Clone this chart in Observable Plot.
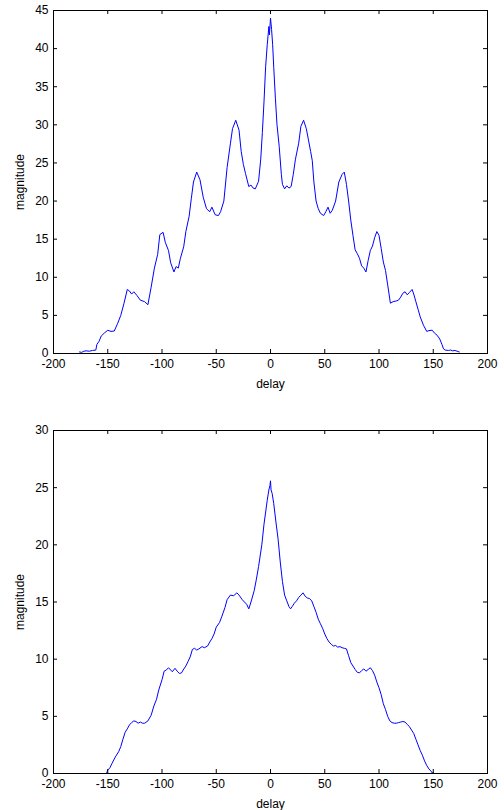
<!DOCTYPE html>
<html><head><meta charset="utf-8">
<script src="https://cdn.jsdelivr.net/npm/d3@7"></script>
<script src="https://cdn.jsdelivr.net/npm/@observablehq/plot@0.6"></script>
<style>
body{margin:0;background:#fff;}
#chart svg{display:block;}
</style></head><body><div id="chart"></div>
<script>
const topDelay = [-176,-174,-172,-170,-167,-164,-161,-160,-158,-156,-153,-150,-147,-144,-141,-138,-135,-132,-130,-128,-126,-123,-120,-116,-113,-110,-107,-104,-102,-99,-97,-94,-92,-89,-87,-85,-83,-80,-78,-75,-73,-71,-68,-65,-62,-59,-56,-54,-51,-48,-46,-43,-40,-37,-35,-32,-29,-27,-25,-23,-20,-18,-16,-14,-11,-9,-7.5,-6,-4.5,-3,-1.5,-1,0,1,2,3,4.5,6,8,10,11,13,15,17,19,21,23,26,28,30.5,33,35,37,38.5,40,42,44,46,49,51,53,55,57,60,63,66,68,70,72,74,76,78,80,82,84,86,88,90,92,94,96,98,100,102,104,106,108,110.5,113,116,118,120,122,124,126,128,130.5,132,134,136,138,141,144,146,149,151,153.5,156,158,159.5,161,164,166,168,170,172,174];
const topMagnitude = [0.2,0.15,0.3,0.35,0.3,0.4,0.45,1.2,1.6,2.3,2.7,3.05,2.9,2.95,3.9,5.0,6.6,8.4,8.2,7.8,8.1,7.6,7.0,6.8,6.4,8.7,11.2,13.0,15.6,15.9,14.6,13.5,11.9,10.7,11.4,11.2,12.5,14.0,16.0,18.0,20.3,22.5,23.8,22.8,20.5,19.0,18.6,19.2,18.2,18.1,18.6,20.0,24.4,27.5,29.5,30.6,29.3,26.5,24.8,23.6,21.9,22.1,21.7,21.6,22.6,25.5,29,33,37.6,40.5,42.9,41.8,44.0,42.5,40.5,37.5,33.5,30,27.2,23.5,22.2,21.6,22.0,21.7,21.9,23.5,25.5,27.6,29.8,30.6,29.5,28,26.5,25.3,22.5,20.0,19.0,18.4,18.1,18.6,19.2,18.4,18.8,20.0,22.5,23.5,23.8,22.2,20.0,17.5,15.5,13.6,13.1,12.5,11.5,11.2,10.7,12.2,13.5,14.1,15.2,16.0,15.5,13.8,12.0,10.9,9.0,6.6,6.8,6.9,7.0,7.4,7.9,8.1,7.7,8.0,8.4,7.8,6.8,5.8,4.8,3.7,2.9,3.0,3.06,2.7,2.4,1.9,1.2,0.6,0.45,0.4,0.45,0.35,0.4,0.3,0.2];
const bottomDelay = [-151,-150,-148,-146,-143,-140,-138,-136,-134,-132,-130,-128,-126,-124,-122,-120,-118,-116,-113,-110,-107.5,-105,-103,-100,-98,-96,-94,-92,-90.5,-88,-86,-84,-82,-80.5,-78,-76,-74,-72,-70,-68,-66,-63,-61,-58,-56,-54,-52,-50,-47,-45,-42,-40,-37,-34,-31,-29,-26,-24,-22,-20,-18,-15,-13,-11,-8,-6,-3,-1.5,-0.5,0,0.5,1.5,3,5,7,9,11,13,15,17,18.5,20,22,24,26,28,30,32,34,36,38,40,42,44,46,48,50,52,54,56,58,60,62,64,66,68,70,72,74,76,78,80,82,84,86,88,90,92,94,96,98,100,102,104,106,108,110,112,114,116,118,120,122,124,126,128,130,132,134,136,138,140,142,144,146,148,149,150];
const bottomMagnitude = [0.05,0.3,0.5,0.9,1.45,1.9,2.35,3.0,3.6,3.9,4.25,4.45,4.6,4.55,4.4,4.5,4.4,4.4,4.6,5.1,5.9,6.5,7.3,8.2,8.95,9.05,9.25,9.05,8.9,9.2,8.95,8.75,8.8,9.05,9.4,9.8,10.2,10.85,10.95,10.8,10.9,11.1,11.0,11.15,11.5,11.8,12.2,12.8,13.2,13.7,14.5,15.2,15.6,15.55,15.8,15.6,15.2,15.0,14.8,14.4,15.0,16.0,17.0,18.1,20.0,21.8,23.9,24.8,25.2,25.6,24.8,24.5,23.6,22.0,20.5,18.5,16.8,15.6,15.1,14.6,14.4,14.6,14.9,15.1,15.4,15.6,15.8,15.5,15.35,15.3,15.1,14.6,14.1,13.5,13.1,12.7,12.2,11.8,11.5,11.3,11.15,11.2,11.05,11.1,11.0,10.95,10.9,10.3,9.7,9.4,9.1,8.85,8.8,9.0,9.15,8.95,9.1,9.25,9.0,8.6,8.0,7.5,6.9,6.1,5.6,5.0,4.6,4.45,4.4,4.4,4.45,4.5,4.55,4.5,4.3,4.1,3.8,3.5,3.0,2.5,2.0,1.6,1.1,0.7,0.4,0.2,0.05,0.1];
const xTicks = [-200,-150,-100,-50,0,50,100,150,200];
const topYTicks = [0,5,10,15,20,25,30,35,40,45];
const bottomYTicks = [0,5,10,15,20,25,30];
const xLabel = "delay";
const yLabel = "magnitude";

function panel(delay, mag, yTicks, height, marginTop, marginBottom) {
  const data = delay.map((d, i) => ({delay: d, magnitude: mag[i]}));
  const width = 504, marginLeft = 53, marginRight = 17;
  const innerW = width - marginLeft - marginRight;
  const innerH = height - marginTop - marginBottom;
  const tick = 4;
  return Plot.plot({
    width, height, marginTop, marginBottom, marginLeft, marginRight,
    style: {fontFamily: "'Liberation Sans', Arial, sans-serif", fontSize: "12px", color: "#000", background: "#fff"},
    x: {domain: [xTicks[0], xTicks[xTicks.length - 1]]},
    y: {domain: [yTicks[0], yTicks[yTicks.length - 1]]},
    marks: [
      Plot.line(data, {x: "delay", y: "magnitude", stroke: "#0000ff", strokeWidth: 1}),
      Plot.frame({stroke: "#000"}),
      Plot.ruleX(xTicks, {x: d => d, insetTop: innerH - tick, stroke: "#000"}),
      Plot.ruleX(xTicks, {x: d => d, insetBottom: innerH - tick, stroke: "#000"}),
      Plot.ruleY(yTicks, {y: d => d, insetRight: innerW - tick, stroke: "#000"}),
      Plot.ruleY(yTicks, {y: d => d, insetLeft: innerW - tick, stroke: "#000"}),
      Plot.axisX(xTicks, {tickSize: 0, tickPadding: 6, tickFormat: d => String(d), label: xLabel, labelAnchor: "center", labelOffset: 34, labelArrow: "none"}),
      Plot.axisY(yTicks, {tickSize: 0, tickPadding: 5, tickFormat: d => String(d), label: yLabel, labelAnchor: "center", labelOffset: 38, labelArrow: "none"})
    ]
  });
}

const root = document.getElementById("chart");
root.appendChild(panel(topDelay, topMagnitude, topYTicks, 400, 10, 47));
root.appendChild(panel(bottomDelay, bottomMagnitude, bottomYTicks, 410, 30, 37));
</script></body></html>
